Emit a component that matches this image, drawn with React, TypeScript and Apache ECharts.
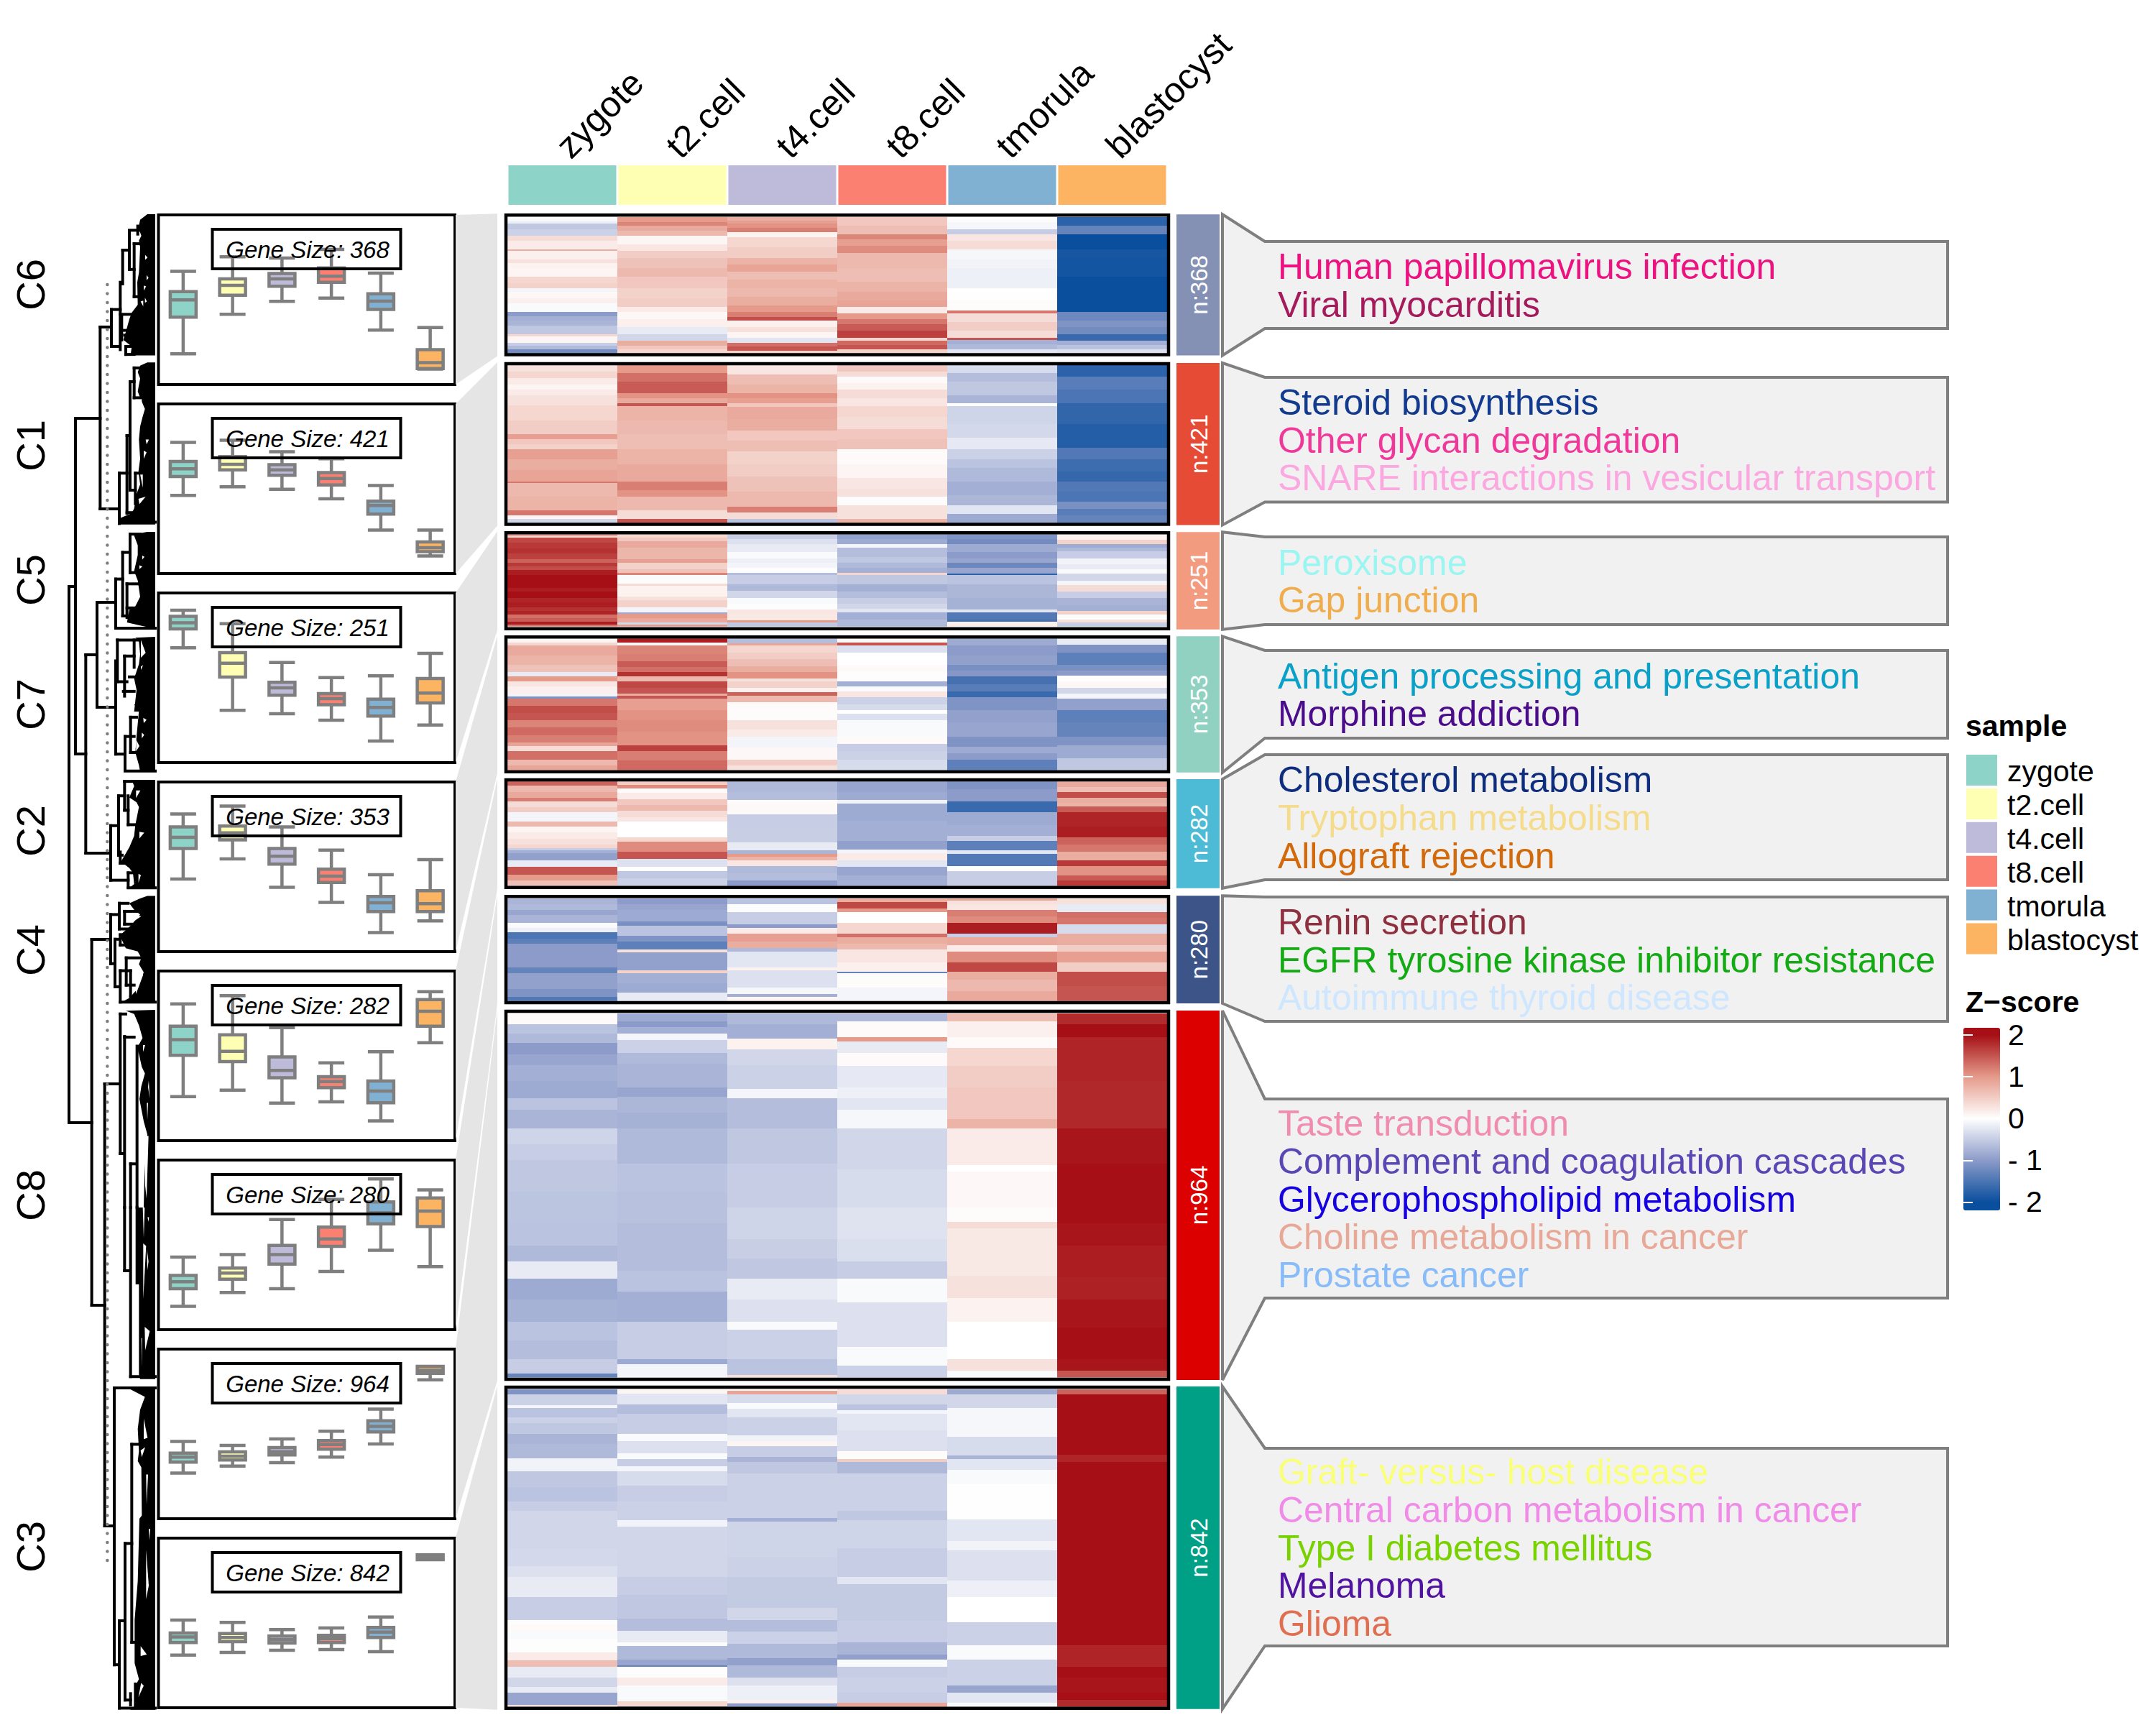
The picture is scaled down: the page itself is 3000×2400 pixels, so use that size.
import React, { useEffect, useRef } from "react";
import * as echarts from "echarts";

const samples = ["zygote", "t2.cell", "t4.cell", "t8.cell", "tmorula", "blastocyst"];
const sampleColors = ["#8DD3C7", "#FFFFB3", "#BEBADA", "#FB8072", "#80B1D3", "#FDB462"];
const clusters = ["C6", "C1", "C5", "C7", "C2", "C4", "C8", "C3"];
const clusterSizes = [368, 421, 251, 353, 282, 280, 964, 842];
const panelSizes = [368, 421, 251, 353, 282, 280, 964, 842];
const stripColors = ["#8491B4", "#E64B35", "#F39B7F", "#91D1C2", "#4DBBD5", "#3C5488", "#DC0000", "#00A087"];

// box statistics per panel: [min, q1, median, q3, max] of z-score for every sample
const boxP1 = [[-1.84,-.65,-.09,.18,.84],[-.56,.06,.38,.59,1.31],[-.14,.35,.59,.77,1.27],[-.03,.48,.68,.95,1.55],[-1.07,-.40,-.13,.11,.78],[-2.34,-2.32,-2.13,-1.71,-.99]];
const boxP2 = [[-.30,.31,.56,.80,1.42],[-.02,.53,.71,.96,1.49],[-.10,.35,.53,.70,1.12],[-.41,.04,.25,.44,.89],[-1.43,-.91,-.63,-.49,.02],[-2.27,-2.13,-2.0,-1.81,-1.43]];
const boxP3 = [[.89,1.50,1.70,1.91,2.11],[-1.14,-.06,.39,.73,1.67],[-1.25,-.65,-.41,-.23,.41],[-1.46,-.96,-.76,-.60,-.08],[-2.14,-1.33,-1.05,-.78,-.02],[-1.62,-.90,-.58,-.11,.71]];
const boxP4 = [[-.48,.51,.87,1.21,1.63],[.17,.79,1.02,1.24,1.89],[-.75,0,.26,.51,1.21],[-1.24,-.59,-.39,-.16,.46],[-2.22,-1.54,-1.25,-1.05,-.34],[-1.84,-1.54,-1.28,-.86,.15]];
const boxP5 = [[-1.41,-.07,.44,.88,1.60],[-1.20,-.27,.06,.60,1.87],[-1.62,-.80,-.56,-.12,.83],[-1.58,-1.12,-.92,-.76,-.31],[-2.20,-1.61,-1.23,-.90,.05],[.34,.88,1.36,1.74,2.00]];
const boxP6 = [[-2.08,-1.51,-1.28,-1.08,-.48],[-1.63,-1.20,-1.00,-.84,-.40],[-1.51,-.71,-.40,-.10,.74],[-.95,-.13,.11,.49,1.39],[-.26,.60,.96,1.31,2.06],[-.79,.51,1.01,1.44,1.70]];
const boxP7 = [[-1.36,-1.00,-.84,-.71,-.33],[-1.13,-.93,-.81,-.67,-.46],[-1.02,-.77,-.66,-.53,-.25],[-.84,-.58,-.43,-.30,0],[-.41,-.02,.16,.34,.72],[1.67,1.88,1.98,2.11,2.11]];
const boxP8 = [[-1.13,-.72,-.54,-.41,.01],[-1.04,-.69,-.56,-.43,-.07],[-.97,-.74,-.63,-.51,-.30],[-.95,-.72,-.59,-.49,-.25],[-1.02,-.56,-.38,-.23,.11],[1.97,1.97,2.05,2.13,2.13]];
const boxPanels = [boxP1, boxP2, boxP3, boxP4, boxP5, boxP6, boxP7, boxP8];

// heat bands per cluster and sample: [row where the band ends, z-score]
const rowSpans = [[640,1042],[1077,1542],[25,410],[460,1010],[1056,1493],[22,347],[385,1537],[33,1358]];
const heatC6 = [
 [[650,-.05],[660,-.15],[675,-.55],[695,-.45],[710,.35],[735,.2],[740,.8],[765,.15],[775,.3],[790,.12],[815,.1],[835,.4],[850,.45],[860,-.1],[880,.08],[895,.15],[920,-.05],[932,-1],[945,-.8],[960,-.75],[985,-.55],[992,.4],[1010,.1],[1020,-.5],[1030,-.7],[1042,-1.2]],
 [[655,1],[665,1.15],[680,.85],[695,.7],[720,.1],[740,.25],[760,.5],[790,.6],[815,.7],[850,.55],[880,.45],[905,.5],[920,.2],[940,.08],[965,.15],[985,-.2],[1005,-.4],[1020,.8],[1030,.55],[1042,.4]],
 [[650,.8],[660,.95],[672,1.05],[685,1.2],[700,.12],[730,.4],[760,.5],[780,.75],[800,.9],[825,.65],[850,.75],[875,.7],[900,.8],[920,1],[935,1.2],[945,1.55],[965,.15],[980,.3],[995,.1],[1010,-.25],[1022,1.3],[1035,1.5],[1042,.45]],
 [[665,.55],[690,.65],[705,1.15],[725,.95],[745,1.1],[790,.7],[830,.65],[860,.75],[885,.85],[905,.9],[925,.2],[940,1],[955,1.25],[975,1.45],[995,1.65],[1005,.4],[1018,1.35],[1030,1.5],[1042,.45]],
 [[655,-.03],[675,-.08],[690,-.5],[710,.25],[735,.35],[765,-.08],[790,-.12],[850,-.15],[885,-.01],[915,.03],[925,1.25],[950,.35],[975,.5],[995,.35],[1003,1.5],[1015,-.8],[1030,-.7],[1042,-.25]],
 [[665,-1.75],[690,-1.3],[735,-2],[760,-1.9],[815,-1.92],[920,-2],[945,-1.25],[965,-1.1],[985,-1.2],[1005,-1.65],[1018,-.8],[1030,-.6],[1042,-.3]],
];
const heatC1 = [
 [[1095,.3],[1115,.4],[1135,.2],[1150,.1],[1165,.2],[1195,.3],[1240,.4],[1280,.5],[1295,.95],[1310,.55],[1325,.45],[1355,.95],[1385,.8],[1420,.9],[1425,1.25],[1465,.7],[1505,.75],[1520,1.25],[1530,.1],[1542,-.4]],
 [[1100,1],[1125,1.3],[1160,1.45],[1175,1.05],[1190,.85],[1197,1.5],[1240,.75],[1280,.7],[1325,.65],[1370,.75],[1420,.85],[1445,1.2],[1465,1.05],[1505,.7],[1530,.35],[1542,1.5]],
 [[1105,.25],[1135,.65],[1160,.75],[1175,1.05],[1190,.95],[1200,.55],[1235,.85],[1270,.8],[1300,.55],[1330,.65],[1370,.45],[1405,.5],[1450,.6],[1495,.7],[1510,1.2],[1530,.35],[1542,-.6]],
 [[1095,.55],[1110,.35],[1130,.05],[1150,.12],[1175,.35],[1197,.25],[1230,.4],[1265,.35],[1295,.55],[1325,.6],[1370,.05],[1410,.1],[1440,.25],[1465,.3],[1490,-.03],[1530,.3],[1542,.75]],
 [[1100,-.35],[1125,-.65],[1165,-.55],[1190,-.75],[1197,0],[1250,-.42],[1290,-.38],[1325,-.22],[1355,-.45],[1380,-.6],[1420,-.7],[1460,-.8],[1490,-.72],[1515,-.25],[1542,-.85]],
 [[1110,-1.75],[1150,-1.4],[1190,-1.5],[1250,-1.7],[1320,-1.8],[1355,-1.45],[1390,-1.6],[1420,-1.68],[1450,-1.45],[1480,-1.5],[1500,-1.15],[1520,-1.4],[1542,-1.3]],
];
const heatC5 = [
 [[32,.9],[38,.4],[60,1.6],[85,1.7],[105,1.75],[130,1.65],[145,1.4],[160,1.7],[175,1.55],[195,1.9],[228,2.1],[250,2],[265,1.9],[290,2.05],[310,1.85],[330,1.9],[345,1.75],[360,1.85],[375,1.3],[390,1.45],[402,1.9],[410,1.25]],
 [[40,.4],[55,.55],[80,.85],[130,.72],[145,.95],[170,.45],[185,.6],[195,1.15],[215,-.05],[230,.03],[240,.35],[285,.12],[300,.3],[330,.45],[350,-.1],[358,-.85],[375,1],[392,.85],[402,-.4],[410,1]],
 [[45,-.5],[65,-.3],[100,-.2],[125,-.05],[145,-.15],[165,-.1],[185,-.02],[195,-.65],[235,-.5],[260,-.7],[290,-.4],[315,-.05],[340,-.02],[360,.25],[385,.22],[392,1],[410,-.55]],
 [[45,-.95],[65,-.85],[80,-.1],[120,-.65],[145,-.55],[165,-.7],[185,-.8],[195,.4],[235,-.55],[265,-.8],[290,-.65],[315,-.5],[335,-.4],[350,-.25],[380,-.8],[410,-.7]],
 [[45,-1.1],[65,-1.2],[100,-.85],[125,-1],[145,-.9],[165,-1.25],[188,-.9],[195,-1.75],[235,-.6],[290,-.72],[340,-.78],[352,-.25],[380,-1.45],[390,-1.55],[410,.15]],
 [[48,.12],[65,.45],[80,-.85],[95,-.7],[125,-.5],[150,-.12],[170,-.2],[190,-.05],[220,-.4],[238,-.1],[265,.35],[290,-.5],[320,-.75],[345,-.8],[360,.45],[380,-.03],[392,.3],[410,-.5]],
];
const heatC7 = [
 [[478,.1],[490,.4],[530,.85],[570,.75],[600,.6],[618,-.2],[640,1],[660,.25],[690,.15],[703,-.1],[710,-1.1],[740,1.25],[770,1.55],[800,1.5],[830,1.15],[865,1.35],[895,1.2],[910,.9],[930,.35],[965,1.3],[990,.7],[1010,.9]],
 [[476,1.9],[490,.1],[525,1.15],[555,1.2],[580,1.45],[600,1.3],[618,1.75],[640,.7],[665,1.6],[690,1.5],[700,.8],[710,1.5],[760,.95],[800,1.05],[850,1.1],[905,1.05],[930,1.65],[970,1.2],[1010,1.35]],
 [[480,-.65],[490,.9],[520,.4],[545,.5],[575,.65],[600,.8],[628,1.05],[640,.3],[665,.45],[685,.15],[700,1.4],[725,.7],[760,.05],[800,.03],[840,.3],[870,.2],[915,-.1],[965,.07],[990,.5],[1010,.3]],
 [[478,.08],[488,1.5],[520,-.3],[570,0],[600,.05],[640,-.02],[660,-.8],[680,-.05],[705,.25],[735,-.45],[760,-.35],[775,0],[800,-.3],[870,-.05],[900,.05],[930,-.5],[965,-.45],[1010,-.35]],
 [[490,-.85],[530,-1],[570,-.95],[595,-1.15],[618,-1.05],[650,-1.55],[680,-1.4],[705,-1.65],[760,-1.1],[810,-.95],[870,-.9],[912,-1.1],[940,-.85],[965,-1],[1010,-1.35]],
 [[485,-.2],[520,-1.1],[570,-1.35],[595,-1.15],[615,-1],[640,.02],[665,.08],[690,-.4],[710,-.1],[760,-.95],[810,-1.35],[870,-1.3],[905,-1.1],[960,-.85],[1010,-.55]],
];
const heatC2 = [
 [[1075,1.4],[1100,.7],[1125,.85],[1140,1.2],[1165,.35],[1185,.5],[1225,-.1],[1245,.7],[1270,.1],[1295,.2],[1320,.3],[1335,.4],[1345,-.5],[1355,-.8],[1385,-.95],[1412,-.2],[1445,1.5],[1470,1],[1493,.6]],
 [[1070,.5],[1085,1.1],[1105,.05],[1130,.2],[1155,.55],[1180,.7],[1205,.35],[1225,.25],[1290,0],[1308,.4],[1350,1.1],[1380,1.5],[1412,-.3],[1430,-.02],[1460,-.55],[1493,-.45]],
 [[1100,-.7],[1135,-.65],[1150,.03],[1195,.06],[1250,-.5],[1310,-.48],[1345,-.2],[1360,-.75],[1372,1],[1385,.75],[1410,.25],[1440,-.7],[1470,-.65],[1493,-1]],
 [[1100,-.9],[1135,-.85],[1150,-.12],[1220,-.85],[1305,-.8],[1340,-.95],[1355,-.1],[1385,.2],[1412,-.25],[1450,-.9],[1493,-.8]],
 [[1090,-1.1],[1140,-1],[1185,-1.65],[1240,-.85],[1285,-.8],[1305,-.5],[1345,-1.35],[1358,-.25],[1410,-1.45],[1430,-.03],[1493,-.5]],
 [[1080,.85],[1100,.65],[1125,1.55],[1145,.8],[1160,.75],[1185,1.45],[1245,1.85],[1290,1.9],[1320,1.4],[1350,1.25],[1385,.8],[1410,1.7],[1450,1.05],[1470,1.45],[1493,1.7]],
];
const heatC4 = [
 [[40,-.75],[60,-.7],[75,-.9],[100,-.75],[115,-.05],[130,-.15],[150,-1.5],[165,-1.35],[190,-1],[240,-1],[260,-1.3],[310,-.95],[335,-1.1],[347,-1.45]],
 [[40,-1],[60,-.9],[95,-.85],[110,-1.15],[140,-.6],[160,-1.1],[185,-1.35],[192,.3],[250,-.95],[258,.45],[290,-.8],[320,-.85],[347,-.2]],
 [[40,-.6],[65,-.03],[105,-.5],[115,-1],[135,.2],[160,.95],[180,.8],[190,-.7],[240,-.25],[250,.12],[305,-.3],[325,-.08],[335,-.8],[347,.1]],
 [[35,.8],[55,1.6],[65,1],[100,0],[135,.4],[145,1.3],[165,.8],[185,.7],[225,.25],[255,.15],[258,-1.3],[305,.03],[347,-.1]],
 [[30,.9],[40,.3],[60,.25],[80,1.2],[100,1.1],[135,1.9],[145,-.5],[170,.85],[190,.2],[225,1.1],[255,1.6],[280,.8],[315,.7],[347,.85]],
 [[40,.3],[65,-.2],[85,1.3],[105,1.25],[135,-.35],[170,.8],[190,.5],[225,.95],[255,.5],[300,1.55],[347,1.5]],
];
const heatC8 = [
 [[420,.05],[450,-.6],[480,-.7],[515,-1],[550,-.9],[600,-.8],[655,-.85],[690,-.6],[750,-.75],[800,-.42],[850,-.5],[950,-.55],[1045,-.58],[1120,-.6],[1170,-.7],[1225,-.2],[1290,-.85],[1360,-.78],[1420,-.6],[1480,-.65],[1525,-.5],[1537,-1.3]],
 [[410,-.85],[430,-1],[450,-.8],[470,-.1],[510,-.45],[545,-.7],[620,-.75],[650,-.9],[700,-.72],[750,-.78],[860,-.7],[950,-.6],[1050,-.62],[1200,-.65],[1265,-.6],[1360,-.8],[1480,-.5],[1495,-.85],[1537,-.1]],
 [[420,-.7],[465,-.8],[500,.12],[550,-.4],[625,-.45],[655,-.1],[750,-.65],[860,-.55],[1000,-.5],[1100,-.42],[1160,-.48],[1225,-.55],[1290,-.2],[1360,-.3],[1385,-.05],[1480,-.45],[1530,-.6],[1537,.3]],
 [[410,-.7],[460,.05],[475,1],[510,-.2],[553,.05],[620,-.22],[655,-.15],[690,-.25],[750,-.08],[880,-.4],[1000,-.35],[1100,-.28],[1170,-.32],[1225,-.5],[1300,-.05],[1440,-.3],[1500,-.05],[1537,-.45]],
 [[410,.65],[460,.15],[495,.05],[553,.4],[620,.5],[720,.55],[750,.75],[865,.2],[885,0],[1000,.07],[1045,.03],[1065,.35],[1215,.22],[1285,.3],[1360,.12],[1480,0],[1515,.3],[1537,-.05]],
 [[420,1.8],[460,2],[600,1.85],[750,1.82],[860,1.95],[1050,2.05],[1120,1.95],[1220,1.9],[1290,1.88],[1380,1.95],[1480,2.05],[1515,1.95],[1537,1.5]],
];
const heatC3 = [
 [[55,-1.1],[100,-.45],[110,-.1],[150,-.6],[175,-.45],[220,-.55],[260,-.75],[320,-.7],[375,-.12],[440,-.55],[500,-.6],[540,-.5],[700,-.4],[770,-.38],[815,-.3],[900,-.2],[995,-.5],[1015,-.02],[1045,.05],[1075,-.05],[1130,.02],[1165,.2],[1190,.65],[1235,-.2],[1275,-.4],[1300,-.2],[1350,-.9],[1358,.3]],
 [[50,.1],[95,-.25],[135,-.65],[220,-.5],[250,-.05],[300,-.3],[325,-.05],[355,-.5],[375,-.1],[435,-.35],[500,-.5],[580,-.45],[605,-.12],[815,-.4],[890,-.5],[990,-.55],[1040,-.65],[1090,-.2],[1105,-.03],[1160,-.7],[1185,-.9],[1190,-1.3],[1235,-.02],[1270,.2],[1335,-.05],[1355,.4],[1358,-1.3]],
 [[38,.1],[55,.9],[90,-.35],[115,-.05],[150,-.25],[225,-.45],[250,-.12],[270,.1],[315,-.5],[335,-.75],[385,-.55],[570,-.45],[585,-.8],[735,-.42],[815,-.45],[945,-.52],[995,-.4],[1045,-.65],[1095,-.45],[1155,-.7],[1185,-.95],[1235,-.7],[1270,-.3],[1330,-.15],[1345,.15],[1358,-1]],
 [[55,.35],[95,-.4],[120,-.6],[135,-.1],[205,-.25],[290,-.3],[325,.03],[335,.5],[385,-.7],[540,-.45],[580,-.55],[695,-.42],[815,-.5],[845,-.25],[1000,-.52],[1090,-.5],[1140,-.75],[1160,-.95],[1190,-.05],[1235,-.5],[1300,-.45],[1340,-.5],[1358,.9]],
 [[55,-.85],[110,-.4],[230,-.08],[310,-.35],[325,-.75],[370,-.25],[430,-.05],[575,-.01],[665,-.25],[705,-.12],[830,-.3],[900,-.15],[1005,0],[1100,-.45],[1160,-.05],[1270,-.45],[1300,-.9],[1340,-.25],[1358,-.05]],
 [[55,1.4],[230,2.1],[260,2],[305,2.1],[335,1.85],[1100,2.1],[1190,1.85],[1235,2.1],[1300,1.95],[1330,2.1],[1358,1.8]],
];
const heatClusters = [heatC6, heatC1, heatC5, heatC7, heatC2, heatC4, heatC8, heatC3];

// tree: trunk uses page rows; branch lists use rows counted from each section's start
const trunkV = [[178,455,708],[75,582,1049],[118,911,1187],[165,838,984],[48,816,1562],[143,1307,1816],[197,1508,2123]];
const trunkH = [[455,178,225],[708,178,258],[582,75,178],[1049,75,118],[911,118,165],[1187,118,222],[838,165,243],[984,165,243],[816,48,75],[1562,48,143],[1307,143,222],[1816,143,197],[1508,197,258],[2123,197,237]];
const topV = [[225,315,430],[272,130,235],[300,70,190],[320,110,275],[262,230,440],[268,335,410],[335,55,80],[285,430,455],[258,825,982],[290,708,950],[303,540,878],[320,497,590],[325,825,920],[243,1155,1305],[272,1072,1270],[303,1015,1135],[290,1170,1275],[250,1345,1475],[280,1395,1520],[320,1345,1430],[243,1410,1568]];
const topH = [[315,225,262],[430,225,260],[130,272,300],[68,300,340],[190,300,320],[110,320,345],[275,320,345],[330,262,310],[380,268,300],[395,280,320],[455,285,320],[430,285,310],[825,258,290],[978,258,408],[708,290,303],[948,290,320],[540,303,320],[497,320,345],[590,320,350],[878,303,325],[825,325,350],[1155,243,272],[1308,243,408],[1072,272,303],[1015,303,345],[1135,303,350],[1270,272,290],[1170,290,345],[1245,290,340],[1345,250,340],[1475,250,290],[1395,280,320],[1505,275,320],[1460,300,330]];
const midV = [[243,0,155],[282,100,205],[305,40,150],[222,378,548],[255,285,470],[280,240,330],[295,285,375],[262,460,495],[295,525,570],[222,655,808],[258,620,700],[280,645,685],[240,732,880],[262,718,750],[287,790,875],[262,830,928],[305,830,908],[262,965,1400],[280,1035,1568],[305,1432,1568],[332,1065,1568]];
const midH = [[155,243,282],[100,282,320],[208,282,408],[40,305,330],[150,305,330],[378,222,255],[548,222,295],[285,255,280],[240,280,340],[330,280,295],[375,295,330],[470,255,270],[495,262,300],[525,295,320],[572,295,408],[655,222,258],[808,222,240],[620,258,295],[700,258,300],[645,280,340],[685,280,310],[732,240,260],[880,240,260],[718,262,300],[750,262,285],[790,287,350],[875,287,320],[830,262,305],[928,262,408],[912,305,340],[965,262,285],[1400,262,278],[1037,280,320],[1432,305,330]];
const lowV = [[280,0,197],[305,0,527],[332,0,235],[237,565,1425],[258,1288,1560],[282,1047,1535],[310,738,1355],[305,1515,1550],[325,1485,1555]];
const lowH = [[197,280,303],[527,305,408],[562,237,408],[1425,237,258],[1288,258,282],[1560,258,408],[1047,282,310],[1535,282,305],[738,310,335],[1355,310,325]];
const topMass = [
 [[375,18],[345,35],[338,60],[350,85],[340,100],[345,120],[342,170],[340,200],[333,230],[335,300],[310,325],[300,345],[285,385],[275,410],[310,430],[305,458],[408,458],[408,18]],
 [[375,480],[345,490],[335,510],[345,530],[335,570],[345,590],[365,625],[355,650],[345,680],[340,720],[345,780],[338,820],[345,860],[330,890],[320,935],[310,950],[262,965],[258,985],[408,985],[408,480]],
 [[375,1008],[345,1012],[320,1020],[335,1050],[335,1080],[320,1130],[335,1160],[345,1210],[325,1240],[300,1250],[290,1290],[345,1300],[408,1310],[408,1008]],
 [[325,1338],[340,1350],[345,1390],[340,1420],[320,1465],[330,1500],[320,1568],[408,1568],[408,1335]],
];
const midMass = [
 [[320,0],[340,20],[335,60],[330,100],[325,150],[340,190],[345,210],[408,210],[408,0]],
 [[310,235],[320,255],[300,290],[330,305],[340,320],[325,375],[320,410],[300,445],[265,490],[300,510],[315,525],[320,560],[295,575],[408,575],[408,235]],
 [[375,597],[345,605],[300,620],[320,640],[345,655],[305,690],[260,720],[285,760],[335,770],[350,790],[340,810],[360,835],[330,890],[300,915],[262,930],[408,930],[408,597]],
 [[285,955],[320,965],[340,1000],[355,1040],[340,1060],[330,1065],[340,1090],[352,1130],[365,1150],[350,1190],[342,1230],[360,1300],[375,1340],[368,1400],[362,1500],[360,1568],[408,1568],[408,952]],
];
const lowMass = [
 [[330,0],[330,235],[340,240],[340,520],[345,535],[408,535],[408,0]],
 [[300,565],[365,590],[345,630],[335,690],[340,760],[335,790],[350,810],[352,960],[342,970],[335,1165],[322,1285],[322,1420],[340,1470],[325,1490],[320,1560],[300,1565],[408,1565],[408,560]],
];
const topGaps = [[[366,145],[376,153],[366,160]],[[372,208],[380,216],[372,224]],[[360,240],[370,243],[360,256]],[[347,290],[358,287],[358,305]],[[365,278],[373,290],[365,294]],[[368,720],[382,720],[372,735]],[[360,755],[372,760],[360,780]],[[345,828],[356,828],[356,870]],[[338,905],[368,898],[342,922]],[[343,592],[352,592],[352,608]],[[354,1082],[363,1086],[354,1094]],[[342,1112],[354,1116],[342,1124]],[[348,1345],[368,1385],[348,1400]],[[348,1428],[358,1423],[348,1438]]];
const midGaps = [[[358,42],[372,48],[360,58]],[[352,88],[362,95],[352,106]],[[328,110],[342,130],[328,146]],[[328,268],[346,268],[328,292]],[[342,397],[362,400],[342,418]],[[338,528],[348,532],[338,556]],[[318,658],[350,660],[314,678]],[[318,778],[332,778],[318,802]],[[318,838],[358,842],[328,902]],[[357,1062],[366,1062],[357,1083]],[[381,1172],[385,1228],[378,1192]],[[378,1242],[375,1296],[373,1242]],[[345,1432],[352,1432],[349,1556]],[[372,1345],[380,1345],[372,1540],[366,1500],[366,1400]]];
const lowGaps = [[[356,0],[364,0],[360,95]],[[376,30],[382,30],[380,44]],[[358,112],[370,120],[358,285]],[[373,128],[380,168],[375,196]],[[364,372],[385,385],[366,445]],[[350,407],[353,407],[352,498]],[[360,658],[376,718],[360,722]],[[347,757],[352,778],[366,747]],[[370,832],[378,832],[372,925]],[[381,1002],[387,1002],[384,1036]],[[370,1068],[381,1178],[370,1220]],[[347,1367],[373,1393],[347,1398]],[[349,1482],[360,1490],[338,1526]]];
const dotTrail = [396, 2172];

const pathwayLines = [
 ["Human papillomavirus infection", "Viral myocarditis"],
 ["Steroid biosynthesis", "Other glycan degradation", "SNARE interactions in vesicular transport"],
 ["Peroxisome", "Gap junction"],
 ["Antigen processing and presentation", "Morphine addiction"],
 ["Cholesterol metabolism", "Tryptophan metabolism", "Allograft rejection"],
 ["Renin secretion", "EGFR tyrosine kinase inhibitor resistance", "Autoimmune thyroid disease"],
 ["Taste transduction", "Complement and coagulation cascades", "Glycerophospholipid metabolism", "Choline metabolism in cancer", "Prostate cancer"],
 ["Graft- versus- host disease", "Central carbon metabolism in cancer", "Type I diabetes mellitus", "Melanoma", "Glioma"],
];
const pathwayColors = [
 ["#EC1280", "#A51A5A"],
 ["#123A8E", "#F0389A", "#FBA8E0"],
 ["#9BF5F0", "#F0AD4E"],
 ["#0AA0C8", "#4B0C8C"],
 ["#0F2D7E", "#F5DC8C", "#D2690A"],
 ["#8F3040", "#14AA14", "#CFE6FF"],
 ["#F08CB0", "#5A46B4", "#1400E0", "#E8A898", "#88BCF8"],
 ["#FAFF78", "#F08CE8", "#78D200", "#5014A0", "#E06E50"],
];
const colorScale: [number, number[]][] = [[-2,[10,79,158]],[-1,[140,155,201]],[0,[255,255,255]],[1,[229,154,138]],[2,[165,15,21]]];
const zTicks = [-2, -1, 0, 1, 2];

function zColor(z: number) {
  const v = Math.max(-2, Math.min(2, z));
  for (let i = 0; i < colorScale.length - 1; i++) {
    const [a, ca] = colorScale[i];
    const [b, cb] = colorScale[i + 1];
    if (v <= b) {
      const t = (v - a) / (b - a);
      return `rgb(${ca.map((c, k) => Math.round(c + (cb[k] - c) * t)).join(",")})`;
    }
  }
  return "rgb(165,15,21)";
}

// layout
const FONT = '"Liberation Sans"';
const panelTops = [299, 562, 825, 1088, 1351, 1614, 1877, 2140];
const panelH = 236;
const cellTops = [302, 508, 743.3, 888.3, 1087, 1249.7, 1409.5, 1933];
const cellBots = [491.7, 727.7, 871.7, 1071.7, 1232.7, 1392.7, 1916.5, 2374.7];
const frameTops = [297.3, 504, 739.3, 884.3, 1083, 1245.3, 1405, 1928];
const frameBots = [495.5, 731.5, 876.7, 1075.7, 1236.7, 1397, 1921, 2378.7];
const calloutTops = [336, 525, 747, 905, 1050, 1248, 1529, 2015];
const calloutBots = [457, 698.6, 869, 1027, 1224, 1421, 1806, 2290];
const clusterLabelY = [396, 620, 807, 980, 1156, 1322, 1663, 2152];

const heatRender = (_: any, api: any) => {
  const a = api.coord([api.value(0), api.value(1)]);
  const b = api.coord([api.value(0) + 1, api.value(2)]);
  const x0 = Math.round(a[0]), x1 = Math.round(b[0]);
  const y0 = Math.round(a[1]), y1 = Math.round(b[1]);
  return { type: "rect", shape: { x: x0, y: y0, width: x1 - x0, height: y1 - y0 }, style: { fill: zColor(api.value(3)) } };
};

function buildOption() {
  const grid: any[] = [], xAxis: any[] = [], yAxis: any[] = [], series: any[] = [], gfx: any[] = [];
  const addGrid = (g: any, x: any, y: any) => {
    grid.push(g);
    const i = grid.length - 1;
    xAxis.push({ gridIndex: i, ...x });
    yAxis.push({ gridIndex: i, ...y });
    return i;
  };

  // sample annotation strip with labels
  const ann = addGrid({ left: 706, top: 230, width: 918, height: 55 },
    { type: "category", data: samples, position: "top", axisLine: { show: false }, axisTick: { show: false },
      axisLabel: { rotate: 45, interval: 0, margin: 19, fontSize: 50, fontFamily: FONT, color: "#000" } },
    { type: "value", min: 0, max: 1, show: false });
  series.push({ type: "bar", xAxisIndex: ann, yAxisIndex: ann, barWidth: 150, silent: true,
    data: samples.map((_, i) => ({ value: 1, itemStyle: { color: sampleColors[i] } })) });

  // box panels
  boxPanels.forEach((stats, p) => {
    const g = addGrid({ left: 220.5, top: panelTops[p], width: 412.5, height: panelH, show: true, borderColor: "#000", borderWidth: 4, backgroundColor: "#fff" },
      { type: "category", data: samples, show: false },
      { type: "value", min: -2.84, max: 2.67, show: false });
    series.push({ type: "boxplot", xAxisIndex: g, yAxisIndex: g, boxWidth: [36, 36], silent: true,
      data: stats.map((s, i) => ({ value: s, itemStyle: { color: sampleColors[i], borderColor: "#7F7F7F", borderWidth: 4.5 } })) });
    gfx.push({ type: "rect", z: 100, shape: { x: 295.5, y: panelTops[p] + 20, width: 262, height: 55 }, style: { fill: "none", stroke: "#000", lineWidth: 4 } });
    gfx.push({ type: "text", z: 101, x: 428, y: panelTops[p] + 48, style: { text: `Gene Size: ${panelSizes[p]}`, font: `italic 33px ${FONT}`, fill: "#000", align: "center", verticalAlign: "middle" } });
  });

  // heat map blocks
  heatClusters.forEach((cols, c) => {
    const [r0, r1] = rowSpans[c];
    const g = addGrid({ left: 706, top: cellTops[c], width: 918, height: cellBots[c] - cellTops[c] },
      { type: "value", min: 0, max: 6, show: false },
      { type: "value", min: r0, max: r1, inverse: true, show: false });
    const data: number[][] = [];
    cols.forEach((bands, col) => {
      let s = r0;
      bands.forEach(([end, z]) => { data.push([col, s, end, z]); s = end; });
    });
    series.push({ type: "custom", xAxisIndex: g, yAxisIndex: g, silent: true, clip: true, renderItem: heatRender, data });
    gfx.push({ type: "rect", z: 100, shape: { x: 704, y: frameTops[c] + 2, width: 922, height: frameBots[c] - frameTops[c] - 4 }, style: { fill: "none", stroke: "#000", lineWidth: 4.5 } });
    // connector from panel to block
    gfx.push({ type: "polygon", z: 1, shape: { points: [[634, panelTops[c]], [692, frameTops[c]], [692, frameBots[c]], [634, panelTops[c] + panelH]] }, style: { fill: "#E5E5E5" } });
    // size strip
    gfx.push({ type: "rect", z: 1, shape: { x: 1637, y: frameTops[c] + 1, width: 60, height: frameBots[c] - frameTops[c] - 2 }, style: { fill: stripColors[c] } });
    gfx.push({ type: "text", z: 5, x: 1668, y: (frameTops[c] + frameBots[c]) / 2, rotation: Math.PI / 2, style: { text: `n:${clusterSizes[c]}`, font: `33px ${FONT}`, fill: "#fff", align: "center", verticalAlign: "middle" } });
    // callout
    const ct = calloutTops[c], cb = calloutBots[c], mid = (ct + cb) / 2 + 1;
    gfx.push({ type: "polygon", z: 1, shape: { points: [[1701, frameTops[c] + 1], [1760, ct], [2710, ct], [2710, cb], [1760, cb], [1701, frameBots[c] - 1]] }, style: { fill: "#F1F1F1", stroke: "#7F7F7F", lineWidth: 4 } });
    pathwayLines[c].forEach((t, i) => {
      gfx.push({ type: "text", z: 5, x: 1778, y: mid + (i - (pathwayLines[c].length - 1) / 2) * 52.6, style: { text: t, font: `49.9px ${FONT}`, fill: pathwayColors[c][i], align: "left", verticalAlign: "middle" } });
    });
    gfx.push({ type: "text", z: 5, x: 42, y: clusterLabelY[c], rotation: Math.PI / 2, style: { text: clusters[c], font: `56px ${FONT}`, fill: "#000", align: "center", verticalAlign: "middle" } });
  });

  // dendrogram
  const d = addGrid({ left: 80, top: 290, width: 145, height: 2090 },
    { type: "value", min: 0, max: 435, show: false },
    { type: "value", min: 290, max: 2380, inverse: true, show: false });
  const rowOf = (base: number, r: number) => base + r / 2.24;
  const segs: number[][] = [];
  trunkV.forEach(([x, a, b]) => segs.push([x, a, x, b]));
  trunkH.forEach(([y, a, b]) => segs.push([a, y, b, y]));
  const addSection = (base: number, v: number[][], h: number[][]) => {
    v.forEach(([x, a, b]) => segs.push([x, rowOf(base, a), x, rowOf(base, b)]));
    h.forEach(([y, a, b]) => segs.push([a, rowOf(base, y), b, rowOf(base, y)]));
  };
  addSection(290, topV, topH);
  addSection(980, midV, midH);
  addSection(1680, lowV, lowH);
  const polyItems = (base: number, list: number[][][]) => list.map((pts) => pts.map(([x, r]) => [x, rowOf(base, r)]));
  const masses = [...polyItems(290, topMass), ...polyItems(980, midMass), ...polyItems(1680, lowMass)];
  const gaps = [...polyItems(290, topGaps), ...polyItems(980, midGaps), ...polyItems(1680, lowGaps)];
  const polySeries = (list: number[][][], fill: string, z: number) => ({
    type: "custom", xAxisIndex: d, yAxisIndex: d, silent: true, clip: false, z,
    data: list.map((p, i) => [p[0][0], p[0][1], i]),
    renderItem: (_: any, api: any) => ({
      type: "polygon",
      shape: { points: list[api.value(2)].map((pt) => api.coord(pt)) },
      style: { fill },
    }),
  });
  series.push(polySeries(masses, "#000", 3));
  series.push(polySeries(gaps, "#fff", 4));
  series.push({
    type: "custom", xAxisIndex: d, yAxisIndex: d, silent: true, clip: false, z: 5,
    data: segs,
    encode: { x: [0, 2], y: [1, 3] },
    renderItem: (_: any, api: any) => {
      const a = api.coord([api.value(0), api.value(1)]);
      const b = api.coord([api.value(2), api.value(3)]);
      return { type: "line", shape: { x1: a[0], y1: a[1], x2: b[0], y2: b[1] }, style: { stroke: "#000", lineWidth: 4, lineCap: "square" } };
    },
  });
  series.push({
    type: "custom", xAxisIndex: d, yAxisIndex: d, silent: true, clip: false, z: 6,
    data: [[208, dotTrail[0], 208, dotTrail[1]]],
    encode: { x: [0, 2], y: [1, 3] },
    renderItem: (_: any, api: any) => {
      const a = api.coord([api.value(0), api.value(1)]);
      const b = api.coord([api.value(2), api.value(3)]);
      return { type: "line", shape: { x1: a[0], y1: a[1], x2: b[0], y2: b[1] }, style: { stroke: "#7F7F7F", lineWidth: 4.5, lineCap: "round", lineDash: [0.1, 12.4] } };
    },
  });

  // sample legend
  gfx.push({ type: "text", z: 5, x: 2735, y: 1010, style: { text: "sample", font: `bold 41px ${FONT}`, fill: "#000", align: "left", verticalAlign: "middle" } });
  samples.forEach((s, i) => {
    gfx.push({ type: "rect", z: 5, shape: { x: 2736, y: 1050 + i * 46.9, width: 43, height: 43 }, style: { fill: sampleColors[i] } });
    gfx.push({ type: "text", z: 5, x: 2793, y: 1073 + i * 46.9, style: { text: s, font: `41px ${FONT}`, fill: "#000", align: "left", verticalAlign: "middle" } });
  });

  // z-score legend
  gfx.push({ type: "text", z: 5, x: 2735, y: 1394, style: { text: "Z\u2212score", font: `bold 41px ${FONT}`, fill: "#000", align: "left", verticalAlign: "middle" } });
  const barMin = -2.2, barMax = 2.17;
  const stopAt = (z: number) => (barMax - z) / (barMax - barMin);
  gfx.push({ type: "rect", z: 5, shape: { x: 2732, y: 1430, width: 51, height: 254, r: 3 }, style: {
    fill: new echarts.graphic.LinearGradient(0, 0, 0, 1, [...colorScale].reverse().map(([z]) => ({ offset: stopAt(z), color: zColor(z) }))),
  } });
  const cb = addGrid({ left: 2732, top: 1430, width: 51, height: 254 },
    { type: "value", min: 0, max: 1, show: false },
    { type: "value", min: barMin, max: barMax, position: "right", z: 20, splitLine: { show: false }, axisLine: { show: false },
      axisTick: { show: true, inside: true, length: 13, lineStyle: { color: "#fff", width: 2 }, customValues: zTicks },
      axisLabel: { show: true, margin: 11, fontSize: 41, fontFamily: FONT, color: "#000", align: "left", customValues: zTicks,
        formatter: (v: number) => (v < 0 ? `- ${-v}` : `${v}`) } });
  const leftY = { gridIndex: cb, type: "value", min: barMin, max: barMax, position: "left", z: 20, splitLine: { show: false }, axisLine: { show: false },
    axisLabel: { show: false },
    axisTick: { show: true, inside: true, length: 13, lineStyle: { color: "#fff", width: 2 }, customValues: zTicks } };
  yAxis.push(leftY);

  return { animation: false, backgroundColor: "#fff", textStyle: { fontFamily: FONT }, tooltip: { show: false }, grid, xAxis, yAxis, series, graphic: { elements: gfx } };
}

export default function App() {
  const ref = useRef<HTMLDivElement>(null);
  useEffect(() => {
    const chart = echarts.init(ref.current!, undefined, { renderer: "svg" });
    chart.setOption(buildOption() as any);
    return () => chart.dispose();
  }, []);
  return <div ref={ref} style={{ position: "absolute", left: 0, top: 0, width: 3000, height: 2400 }} />;
}
